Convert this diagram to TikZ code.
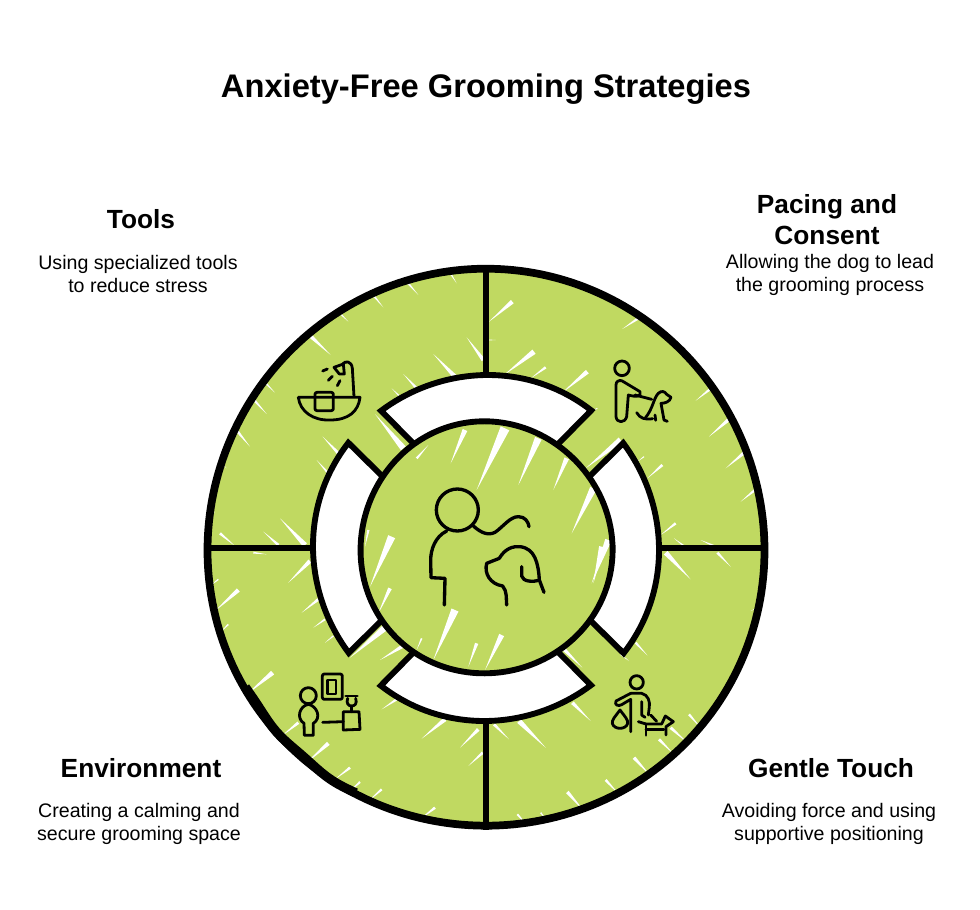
\documentclass[tikz,border=0pt]{standalone}
\usepackage{fontspec}
\setmainfont{Liberation Sans}
\usetikzlibrary{calc}
\definecolor{leafgreen}{RGB}{192, 217, 97}

\tikzset{
  titletext/.style={font=\fontsize{24.5}{29}\bfseries\selectfont},
  headtext/.style={font=\fontsize{19.7}{23.2}\bfseries\selectfont, align=center},
  bodytext/.style={font=\fontsize{14.7}{17.3}\selectfont, align=center},
  rimline/.style={line width=5.8pt, line join=round},
  ringline/.style={line width=4.4pt, line join=miter},
  spokeline/.style={line width=4pt},
  iconline/.style={line width=2.1pt, line cap=round, line join=round},
  bigicon/.style={line width=2.5pt, line cap=round, line join=round},
}

% white brush streaks: list of wide end / tip, read off at 3x from an origin
\newcommand{\streaks}[3]{
  \begin{scope}[shift={(#1,#2)}, x=0.25pt, y=-0.25pt]
    \foreach \ax/\ay/\bx/\by in {#3}
      \fill[white] ($(\ax,\ay)!0.07!90:(\bx,\by)$) -- (\bx,\by) -- ($(\ax,\ay)!0.07!-90:(\bx,\by)$) -- cycle;
  \end{scope}
}
% one white segment of the ring, centred on angle #1
\newcommand{\ringpiece}[1]{
  plot[domain=#1-37.4:#1+37.4, samples=40] ({486+(173+0.5*sin(4*\x))*cos(\x)}, {548+(173+0.5*sin(4*\x))*sin(\x)})
  -- ({486+118*cos(#1+34)}, {548+118*sin(#1+34)}) -- ({486+118*cos(#1-34)}, {548+118*sin(#1-34)}) -- cycle
}

\begin{document}
\begin{tikzpicture}[x=0.75pt, y=-0.75pt]
  \useasboundingbox (0,0) rectangle (980,909);

  % Title
  \node[titletext] (title) at (486,89) {Anxiety-Free Grooming Strategies};

  % Outer disc
  \fill[leafgreen] (486,548) circle[radius=279];

  % Streaks in the outer disc
  \begin{scope}
    \clip (486,548) circle[radius=279];
    \streaks{200}{260}{325/222/392/285, 620/65/655/105, 515/100/550/142, 415/155/445/185, 750/38/770/70,
      188/360/225/398, 155/412/200/462, 105/505/150/560, 65/610/80/625, 60/820/105/858, 30/735/45/760,
      765/350/700/282, 850/300/800/232, 650/385/610/342, 600/410/575/385, 610/565/525/462,
      420/585/368/530, 385/640/350/600, 315/855/240/775, 235/855/190/815, 665/590/630/555}
    \streaks{484}{260}{470/170/415/207, 690/378/635/422, 750/465/675/530, 790/570/725/625, 825/680/770/725,
      575/790/530/825, 535/615/490/655, 480/590/460/605, 85/125/15/185, 150/275/60/345, 185/322/140/355,
      310/335/235/398, 410/540/305/625, 340/445/320/455, 690/858/650/840, 600/858/570/835, 15/240/35/240}
    \streaks{200}{546}{330/45/265/110, 355/160/305/200, 375/220/340/245, 400/270/375/290, 115/132/45/195,
      55/100/30/120, 85/235/60/260, 218/380/140/445, 190/485/170/500, 385/592/320/650, 295/530/245/570,
      450/665/405/700, 480/708/445/740, 545/730/505/765, 705/785/660/820, 735/520/665/578, 590/460/545/490,
      625/290/540/342, 555/245/450/335, 835/550/780/605, 848/620/805/660, 160/20/200/25}
    \streaks{484}{546}{545/20/620/100, 700/20/740/62, 265/470/320/525, 105/525/185/605, 30/535/75/580,
      455/290/490/328, 410/325/435/345, 615/505/650/545, 560/545/610/590, 525/580/570/625, 450/635/500/690,
      365/702/405/745, 250/738/300/795, 170/800/190/825, 100/805/130/838, 240/310/295/365, 830/180/800/195}
  \end{scope}

  % White ring segments
  \foreach \a in {0,90,180,270}
    \fill[white] \ringpiece{\a};
  \foreach \a in {0,90,180,270}
    \draw[ringline] \ringpiece{\a};

  % Inner disc
  \fill[leafgreen] plot[domain=0:360, samples=180] ({486+(126+0.9*sin(3*\x+40))*cos(\x)}, {548+(126+0.9*sin(3*\x+40))*sin(\x)}) -- cycle;

  % Streaks in the inner disc
  \streaks{300}{360}{495/210/452/310, 615/205/530/390, 715/235/655/375, 800/295/760/390, 880/385/815/520,
    925/540/875/670, 905/560/880/670, 275/530/210/680, 270/685/235/760, 465/750/400/900, 605/825/555/930,
    530/850/505/920, 365/835/350/870, 350/295/385/255, 205/510/195/560}

  % Circle outlines
  \draw[ringline] plot[domain=0:360, samples=180] ({486+(126+0.9*sin(3*\x+40))*cos(\x)}, {548+(126+0.9*sin(3*\x+40))*sin(\x)}) -- cycle;
  \draw[rimline] plot[domain=0:360, samples=240] ({486+(278.5+0.8*sin(3*\x))*cos(\x)}, {548+(278.5+0.8*sin(3*\x))*sin(\x)}) -- cycle;
  \draw[rimline, line width=7pt] plot[domain=118:150, samples=24] ({486+(278+0.8*sin(24*\x))*cos(\x)}, {548+(278+0.8*sin(24*\x))*sin(\x)});

  % Spokes
  \draw[spokeline] (486,266) -- (486,375);
  \draw[spokeline] (486,721) -- (486,830);
  \draw[spokeline] (206,548) -- (313,548);
  \draw[spokeline] (660,548) -- (766,548);

  % Icon: bath with shower
  \begin{scope}[shift={(280,340)}, x=0.25pt, y=-0.25pt]
    \draw[iconline] (55,172) -- (240,172) .. controls (235,215) and (205,240) .. (150,240) .. controls (100,242) and (60,215) .. (55,172);
    \draw[iconline, rounded corners=1.5pt] (105,157) rectangle (160,212);
    \draw[iconline] (222,170) -- (217,85) .. controls (215,62) and (195,62) .. (188,72);
    \draw[iconline] (162,82) -- (190,72) -- (193,102) -- (178,102) -- cycle;
    \draw[iconline] (128,93) -- (142,87);
    \draw[iconline] (145,121) -- (157,109);
    \draw[iconline] (172,137) -- (180,122);
  \end{scope}

  % Icon: person walking the dog
  \begin{scope}[shift={(590,340)}, x=0.25pt, y=-0.25pt]
    \draw[iconline] (96,85) circle[radius=22];
    \draw[iconline] (95,122) -- (150,155) .. controls (155,170) and (140,172) .. (115,165) -- (110,230) .. controls (105,250) and (80,250) .. (78,230) -- (78,135) .. controls (78,125) and (85,120) .. (95,122);
    \draw[iconline] (135,165) -- (185,178);
    \draw[iconline] (165,235) .. controls (190,205) and (190,175) .. (205,160) .. controls (215,150) and (225,155) .. (230,163) -- (243,172) .. controls (240,185) and (225,190) .. (213,190) -- (222,240) -- (232,244);
    \draw[iconline] (140,218) .. controls (150,235) and (165,240) .. (188,236);
    \draw[iconline] (195,225) -- (197,241);
  \end{scope}

  % Icon: calming room
  \begin{scope}[shift={(280,660)}, x=0.25pt, y=-0.25pt]
    \draw[iconline, rounded corners=1.5pt] (127,42) rectangle (187,118);
    \draw[iconline] (143,60) rectangle (168,102);
    \draw[iconline] (85,107) circle[radius=24];
    \draw[iconline] (85,133) .. controls (58,138) and (48,175) .. (72,190) -- (73,226) -- (100,226) -- (100,190) .. controls (125,175) and (112,138) .. (85,133);
    \draw[iconline] (128,187) -- (190,185);
    \draw[iconline] (190,155) -- (237,155) -- (240,208) -- (190,210) -- cycle;
    \draw[iconline] (197,108) -- (232,108);
    \draw[iconline] (203,115) .. controls (198,130) and (205,138) .. (215,138) .. controls (225,138) and (232,130) .. (227,115);
    \draw[iconline] (215,138) -- (215,155);
  \end{scope}

  % Icon: person with the dog and bag
  \begin{scope}[shift={(590,660)}, x=0.25pt, y=-0.25pt]
    \draw[iconline] (140,67) circle[radius=20];
    \draw[iconline] (122,100) -- (78,123) .. controls (72,135) and (85,140) .. (95,134) -- (122,118) -- (122,215);
    \draw[iconline] (122,100) -- (155,100) .. controls (175,105) and (180,125) .. (178,140) -- (175,165);
    \draw[iconline] (155,125) -- (155,165) -- (165,172);
    \draw[iconline] (90,150) .. controls (75,170) and (65,180) .. (67,190) .. controls (72,210) and (108,210) .. (113,190) .. controls (115,180) and (105,170) .. (90,150) -- cycle;
    \draw[iconline] (145,185) -- (168,192) -- (215,192) -- (226,168) -- (250,185) -- (228,200) -- (228,225);
    \draw[iconline] (168,192) -- (168,226);
    \draw[iconline] (168,208) -- (222,208);
    \draw[iconline] (182,165) -- (200,184);
  \end{scope}

  % Icon: person and dog in the centre
  \begin{scope}[shift={(410,470)}, x=0.25pt, y=-0.25pt]
    \draw[bigicon] (142,120) circle[radius=63];
    \draw[bigicon] (110,183) .. controls (75,200) and (62,240) .. (62,270) -- (63,323) -- (105,325) -- (103,405);
    \draw[bigicon] (190,168) .. controls (215,190) and (235,197) .. (255,187) .. controls (280,170) and (300,140) .. (325,140) .. controls (345,140) and (355,155) .. (357,170);
    \draw[bigicon] (268,265) .. controls (285,235) and (310,228) .. (330,230) .. controls (375,235) and (385,280) .. (388,330) -- (402,367);
    \draw[bigicon] (268,265) -- (230,280) .. controls (222,310) and (240,342) .. (278,348) .. controls (292,365) and (288,385) .. (290,405);
    \draw[bigicon] (335,290) -- (335,318) .. controls (338,335) and (370,337) .. (388,330);
  \end{scope}

  % Labels
  \node[headtext] (toolshead) at (141,219) {Tools};
  \node[bodytext] (toolsbody) at (138,274) {Using specialized tools\\to reduce stress};
  \node[headtext] (pacinghead) at (827,220) {Pacing and\\Consent};
  \node[bodytext] (pacingbody) at (830,275) {Allowing the dog to lead\\the grooming process};
  \node[headtext] (envhead) at (141,768) {Environment};
  \node[bodytext] (envbody) at (139,824) {Creating a calming and\\secure grooming space};
  \node[headtext] (touchhead) at (831,768) {Gentle Touch};
  \node[bodytext] (touchbody) at (829,824) {Avoiding force and using\\supportive positioning};
\end{tikzpicture}
\end{document}
